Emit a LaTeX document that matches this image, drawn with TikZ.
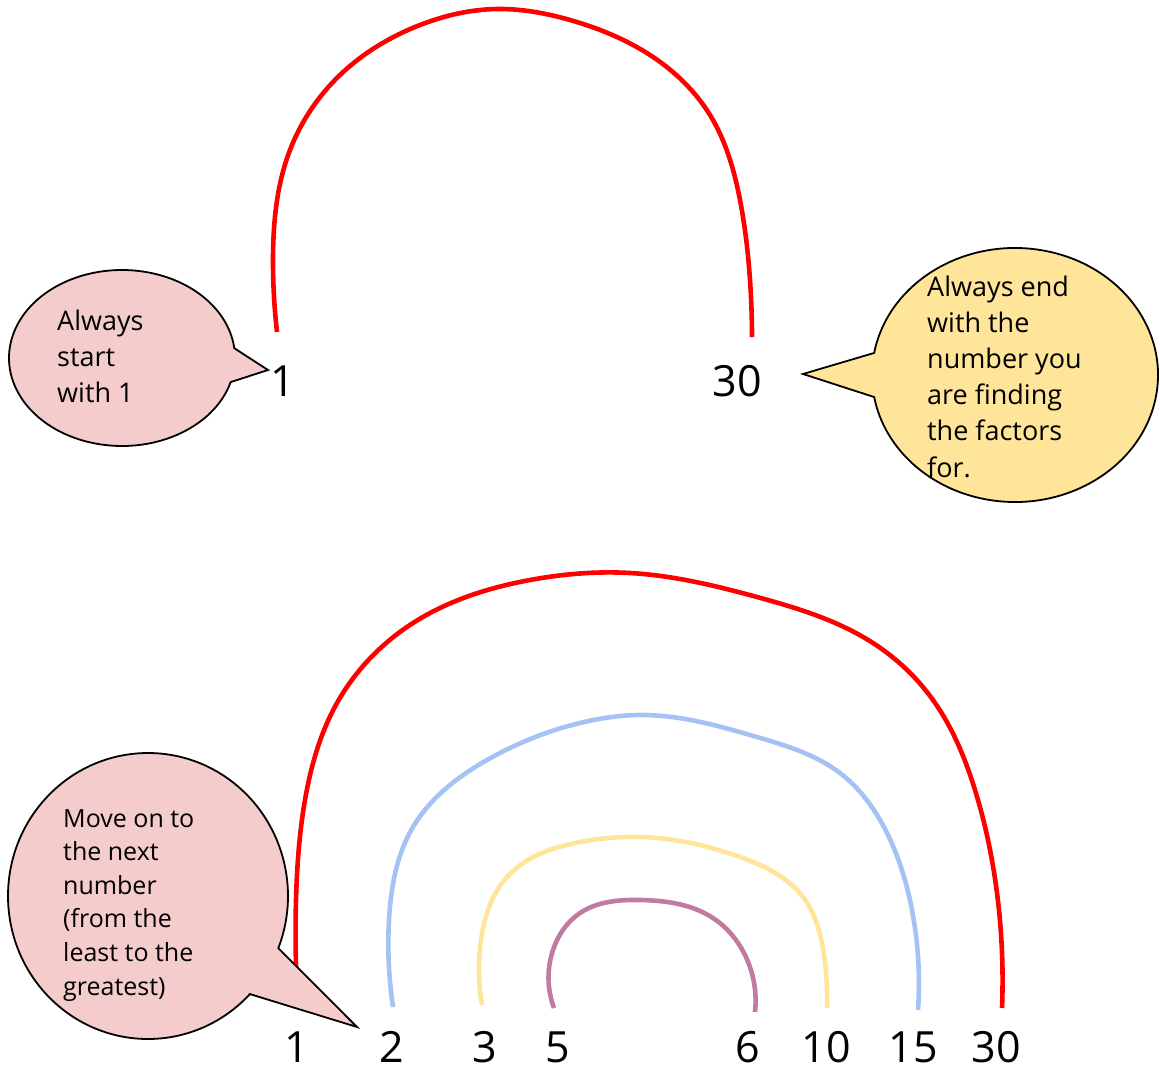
\documentclass[tikz,border=0pt]{standalone}
\usepackage{fontspec}
\setmainfont{Open Sans}
\usetikzlibrary{hobby}
\definecolor{arcred}{HTML}{FF0000}
\definecolor{arcblue}{HTML}{A4C2F4}
\definecolor{arcyellow}{HTML}{FFE599}
\definecolor{arcpurple}{HTML}{C27BA0}
\definecolor{pinkfill}{HTML}{F4CCCC}
\definecolor{yellowfill}{HTML}{FFE599}
\begin{document}
\begin{tikzpicture}[x=1pt,y=-1pt,
  arcline/.style={line width=4.6pt, line cap=butt, line join=round},
  bubble/.style={draw=black, line width=1.8pt, line join=miter},
  btext/.style={anchor=base west, inner sep=0pt, font=\fontsize{27}{32}\selectfont},
  bbtext/.style={anchor=base west, inner sep=0pt, font=\fontsize{25}{30}\selectfont},
  num/.style={anchor=base, inner sep=0pt, font=\fontsize{43}{50}\selectfont}]
\useasboundingbox (0,0) rectangle (1160,1070);

% ---------- top arc ----------
\draw[arcline, arcred] (277,332) to[curve through={(273,260) .. (290,150) .. (340,75)
  .. (420,25) .. (497,9) .. (570,20) .. (650,55) .. (710,115) .. (740,200)
  .. (750,280)}] (752,337);

% ---------- bottom arcs ----------
\draw[arcline, arcred] (298,1008) to[curve through={(296,900) .. (305,800) .. (337,703)
  .. (413,623) .. (530,580) .. (630,573) .. (757,597) .. (873,643) .. (933,700)
  .. (975,790) .. (997,893)}] (1002,1008);
\draw[arcline, arcblue] (393,1007) to[curve through={(389,920) .. (413,827) .. (487,760)
  .. (580,723) .. (640,715) .. (757,737) .. (840,773) .. (887,833) .. (912,910)}]
  (918,1010);
\draw[arcline, arcyellow] (482,1005) to[curve through={(481,940) .. (507,877)
  .. (580,842) .. (640,837) .. (740,857) .. (803,897) .. (824,955)}] (827,1008);
\draw[arcline, arcpurple] (554,1008) to[curve through={(553,950) .. (580,913)
  .. (640,900) .. (713,918) .. (745,955)}] (755,1012);

% ---------- speech bubbles ----------
\coordinate (tipA) at (268,370);
\draw[bubble, fill=pinkfill] (122,358) ++(15.9:113 and 88)
  arc[start angle=15.9, end angle=353.6, x radius=113, y radius=88]
  -- (tipA) -- cycle;

\coordinate (tipB) at (803,374);
\draw[bubble, fill=yellowfill] (1015,375) ++(190:143 and 127)
  arc[start angle=190, end angle=530, x radius=143, y radius=127]
  -- (tipB) -- cycle;

\coordinate (tipC) at (357,1027);
\draw[bubble, fill=pinkfill] (148,896) ++(43.3:140 and 143)
  arc[start angle=43.3, end angle=381.4, x radius=140, y radius=143]
  -- (tipC) -- cycle;

% ---------- bubble texts ----------
\foreach \t [count=\i] in {Always, start, {with 1}}
  \node[btext] (ta\i) at (57, {330+36*(\i-1)}) {\t};
\foreach \t [count=\i] in {{Always end}, {with the}, {number you}, {are finding}, {the factors}, {for.}}
  \node[btext] (tb\i) at (927, {296+36.2*(\i-1)}) {\t};
\foreach \t [count=\i] in {{Move on to}, {the next}, {number}, {(from the}, {least to the}, {greatest)}}
  \node[bbtext] (tc\i) at (63, {827+33.6*(\i-1)}) {\t};

% ---------- numbers ----------
\node[num] (n1top) at (283,396) {1};
\node[num] (n30top) at (737,396) {30};

\node[num] (m1) at (297,1062) {1};
\node[num] (m2) at (392,1062) {2};
\node[num] (m3) at (485,1062) {3};
\node[num] (m5) at (558,1062) {5};
\node[num] (m6) at (748,1062) {6};
\node[num] (m10) at (826,1062) {10};
\node[num] (m15) at (913,1062) {15};
\node[num] (m30) at (996,1062) {30};
\end{tikzpicture}
\end{document}
